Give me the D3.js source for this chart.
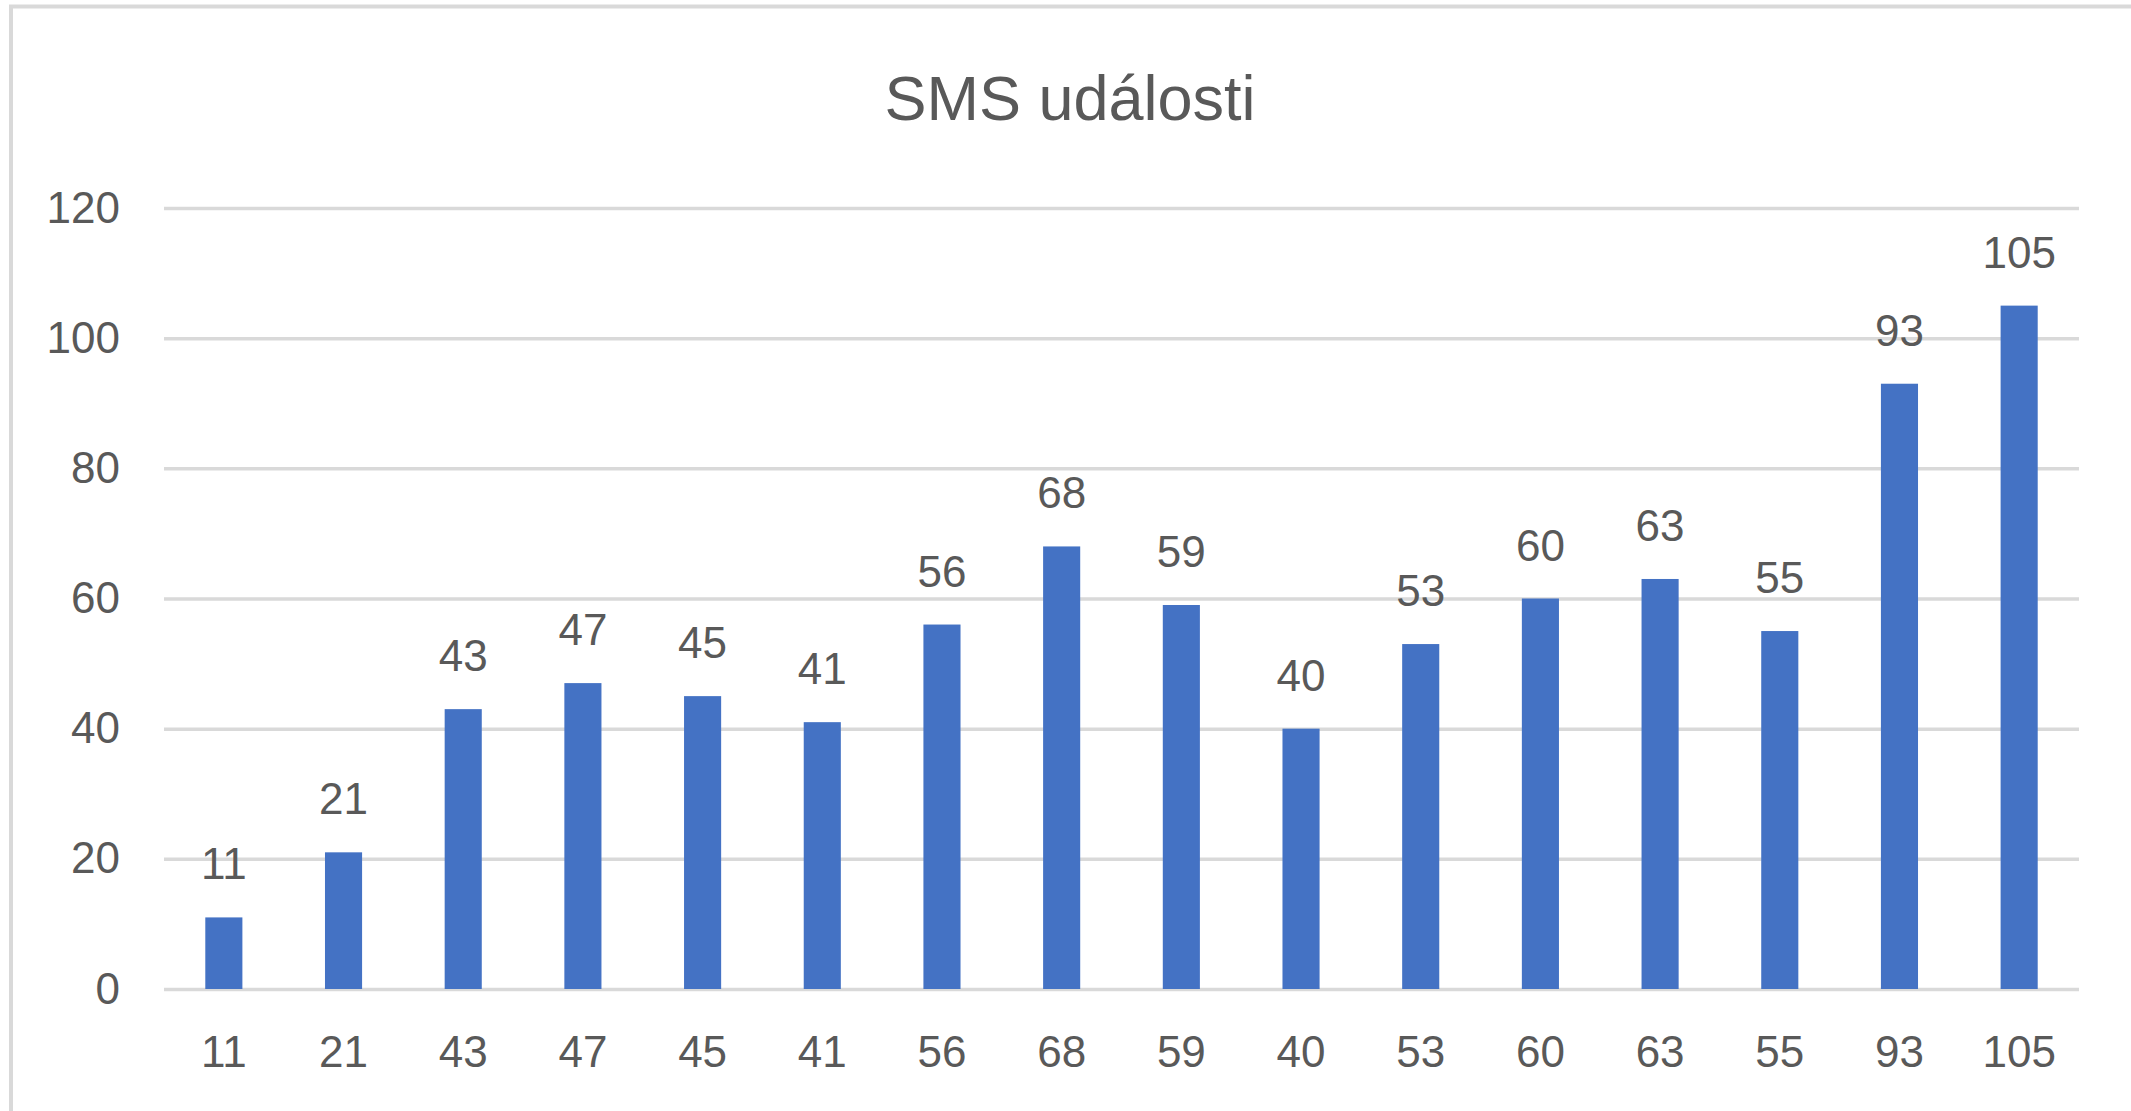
<!DOCTYPE html>
<html>
<head>
<meta charset="utf-8">
<script src="https://cdn.jsdelivr.net/npm/d3@7"></script>
<style>
  html, body { margin: 0; padding: 0; background: #fff; }
  svg { display: block; }
</style>
</head>
<body>
<div id="chart"></div>
<script>
// SMS events per period, bar labels repeat the values
const categories = ['11', '21', '43', '47', '45', '41', '56', '68', '59', '40', '53', '60', '63', '55', '93', '105']
const values = [11, 21, 43, 47, 45, 41, 56, 68, 59, 40, 53, 60, 63, 55, 93, 105]
const yTicks = [0, 20, 40, 60, 80, 100, 120]
const title = 'SMS události'

const width = 2131
const height = 1111
const margin = { top: 208, right: 52, bottom: 122, left: 164 }
const font = '"Liberation Sans", Arial, sans-serif'
const textColor = '#595959'

const svg = d3.select('#chart').append('svg')
  .attr('width', width)
  .attr('height', height)

// chart frame, only left and top edges are visible in the crop
svg.append('path')
  .attr('d', `M11,${height} V6.5 H${width}`)
  .attr('fill', 'none')
  .attr('stroke', '#d9d9d9')
  .attr('stroke-width', 4)

svg.append('text')
  .attr('x', 1070)
  .attr('y', 120)
  .attr('text-anchor', 'middle')
  .style('font-family', font)
  .style('font-size', '63px')
  .attr('fill', textColor)
  .text(title)

const x = d3.scaleBand()
  .domain(categories)
  .range([margin.left, width - margin.right])
  .paddingInner(0.69)
  .paddingOuter(0.345)

const y = d3.scaleLinear()
  .domain([0, 120])
  .range([height - margin.bottom, margin.top])

const yAxis = svg.append('g')
  .attr('transform', `translate(${margin.left},0)`)
  .call(d3.axisLeft(y)
    .tickValues(yTicks)
    .tickSize(-(width - margin.left - margin.right))
    .tickPadding(44))

yAxis.select('.domain').remove()
yAxis.selectAll('.tick line')
  .attr('stroke', '#d9d9d9')
  .attr('stroke-width', 3.5)
yAxis.selectAll('.tick text')
  .style('font-family', font)
  .style('font-size', '44px')
  .attr('fill', textColor)

svg.append('g')
  .selectAll('rect')
  .data(values)
  .enter()
  .append('rect')
  .attr('x', (d, i) => x(categories[i]))
  .attr('width', x.bandwidth())
  .attr('y', d => y(d))
  .attr('height', d => y(0) - y(d))
  .attr('fill', '#4472c4')

svg.append('g')
  .selectAll('text')
  .data(values)
  .enter()
  .append('text')
  .attr('x', (d, i) => x(categories[i]) + x.bandwidth() / 2)
  .attr('y', d => y(d) - 38)
  .attr('text-anchor', 'middle')
  .style('font-family', font)
  .style('font-size', '44px')
  .attr('fill', textColor)
  .text(d => d)

const xAxis = svg.append('g')
  .attr('transform', `translate(0,${height - margin.bottom})`)
  .call(d3.axisBottom(x).tickSize(0).tickPadding(47))

xAxis.select('.domain').remove()
xAxis.selectAll('.tick text')
  .style('font-family', font)
  .style('font-size', '44px')
  .attr('fill', textColor)
</script>
</body>
</html>
